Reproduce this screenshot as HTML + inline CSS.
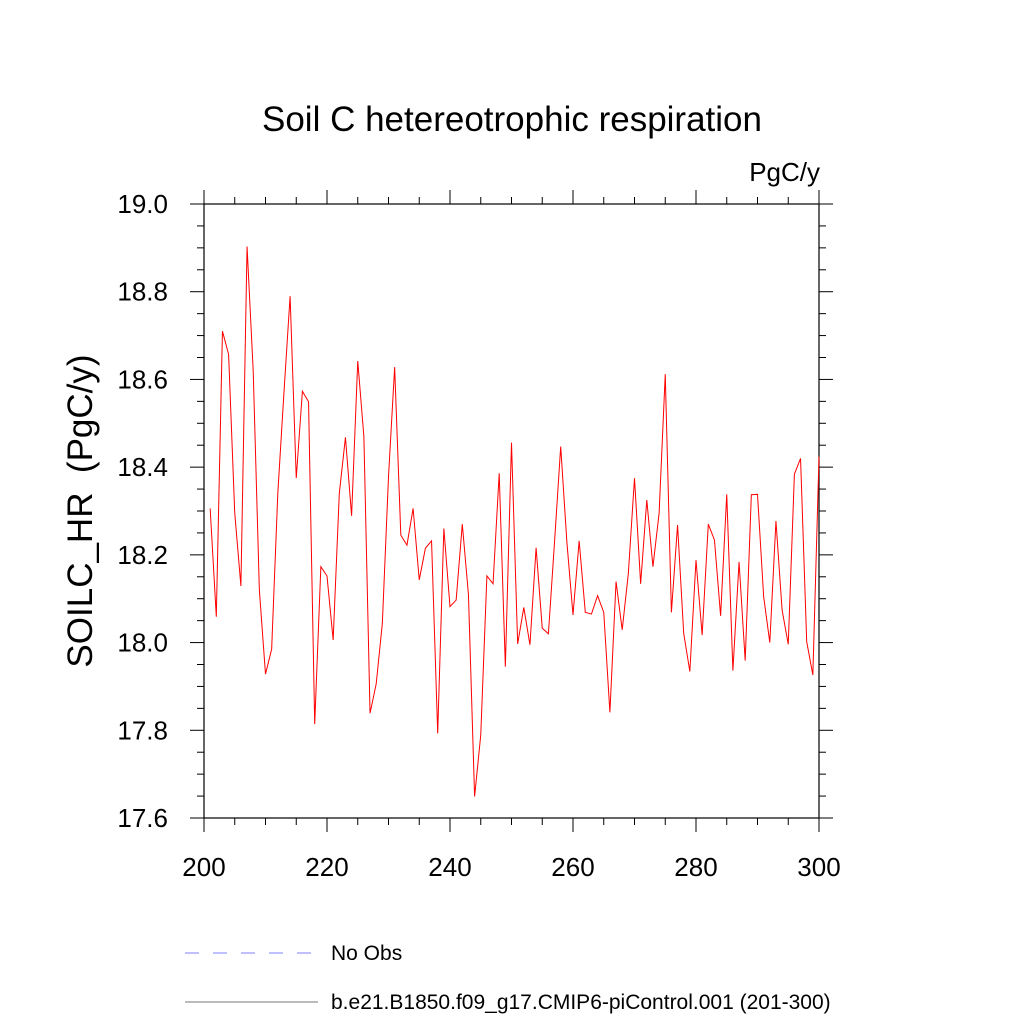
<!DOCTYPE html>
<html><head><meta charset="utf-8"><style>
body{margin:0;background:#fff;}
svg{display:block;font-family:"Liberation Sans",Arial,sans-serif;}
</style></head><body>
<svg id="chart" width="1024" height="1024" viewBox="0 0 1024 1024" xmlns="http://www.w3.org/2000/svg">
<rect width="1024" height="1024" fill="#fff"/>
<text x="512" y="131" font-size="35" text-anchor="middle">Soil C hetereotrophic respiration</text>
<text x="820" y="181" font-size="26" text-anchor="end">PgC/y</text>
<text transform="translate(92,511) rotate(-90)" font-size="35" text-anchor="middle" style="white-space:pre">SOILC_HR  (PgC/y)</text>
<g id="axes"></g>
<g id="series"></g>
<g>
<line x1="185" y1="953" x2="318" y2="953" stroke="#8080ff" stroke-width="1" stroke-dasharray="14,14"/>
<text x="331" y="960" font-size="21">No Obs</text>
<line x1="185" y1="1002" x2="318" y2="1002" stroke="#777" stroke-width="1"/>
<text x="331" y="1009" font-size="21">b.e21.B1850.f09_g17.CMIP6-piControl.001 (201-300)</text>
</g>
</svg>
<script>
const years = [];
for (let y = 201; y <= 300; y++) years.push(y);
const values = [18.306,18.059,18.710,18.657,18.295,18.129,18.903,18.62,18.12,17.928,
17.985,18.34,18.57,18.79,18.375,18.573,18.549,17.814,18.173,18.152,
18.006,18.34,18.468,18.289,18.642,18.469,17.839,17.906,18.044,18.378,
18.628,18.245,18.222,18.306,18.143,18.215,18.232,17.793,18.26,18.082,
18.097,18.27,18.109,17.649,17.789,18.152,18.134,18.386,17.945,18.456,
17.997,18.080,17.995,18.216,18.033,18.02,18.23,18.447,18.23,18.063,
18.232,18.069,18.065,18.107,18.069,17.841,18.139,18.029,18.158,18.375,
18.134,18.325,18.173,18.295,18.612,18.069,18.268,18.021,17.934,18.188,
18.017,18.270,18.234,18.061,18.338,17.936,18.184,17.959,18.337,18.338,
18.105,18.0,18.277,18.074,17.996,18.384,18.42,18.002,17.926,18.424];
const xTicks = [200,220,240,260,280,300];
const yTicks = ["17.6","17.8","18.0","18.2","18.4","18.6","18.8","19.0"];
const X0=204,X1=819,Y0=818,Y1=204;
const xMin=200,xMax=300,yMin=17.6,yMax=19.0;
function sx(v){return X0+(v-xMin)/(xMax-xMin)*(X1-X0);}
function sy(v){return Y0-(v-yMin)/(yMax-yMin)*(Y0-Y1);}
const NS="http://www.w3.org/2000/svg";
function mk(tag,attrs,parent){const e=document.createElementNS(NS,tag);for(const k in attrs)e.setAttribute(k,attrs[k]);parent.appendChild(e);return e;}
const axes=document.getElementById('axes');
const frame=mk('rect',{x:X0,y:Y1,width:X1-X0,height:Y0-Y1,fill:'none',stroke:'#000','stroke-width':1.2},axes);


for(let v=200; v<=300; v+=5){
  const x=sx(v); const L=(v%20===0)?14:7;
  const t1=mk('line',{x1:x,y1:Y1,x2:x,y2:Y1-L,stroke:'#000','stroke-width':1},axes);
  
  
  const t2=mk('line',{x1:x,y1:Y0,x2:x,y2:Y0+L,stroke:'#000','stroke-width':1},axes);
  
  
}
xTicks.forEach(v=>{
  const t=mk('text',{x:sx(v),y:876,'font-size':26,'text-anchor':'middle'},axes);
  t.textContent=v;
  
  
});
for(let i=0;i<=28;i++){
  const v=yMin+i*0.05; const y=sy(v); const L=(i%4===0)?14:7;
  const a=mk('line',{x1:X0,y1:y,x2:X0-L,y2:y,stroke:'#000','stroke-width':1},axes);
  
  
  const b=mk('line',{x1:X1,y1:y,x2:X1+L,y2:y,stroke:'#000','stroke-width':1},axes);
  
  
}
yTicks.forEach(s=>{
  const t=mk('text',{x:168,y:sy(parseFloat(s))+9,'font-size':26,'text-anchor':'end'},axes);
  t.textContent=s;
  
  
});
const series=document.getElementById('series');
const pts=years.map((yr,i)=>sx(yr)+','+sy(values[i])).join(' ');
const line=mk('polyline',{points:pts,fill:'none',stroke:'#ff0000','stroke-width':1},series);


</script>
</body></html>
